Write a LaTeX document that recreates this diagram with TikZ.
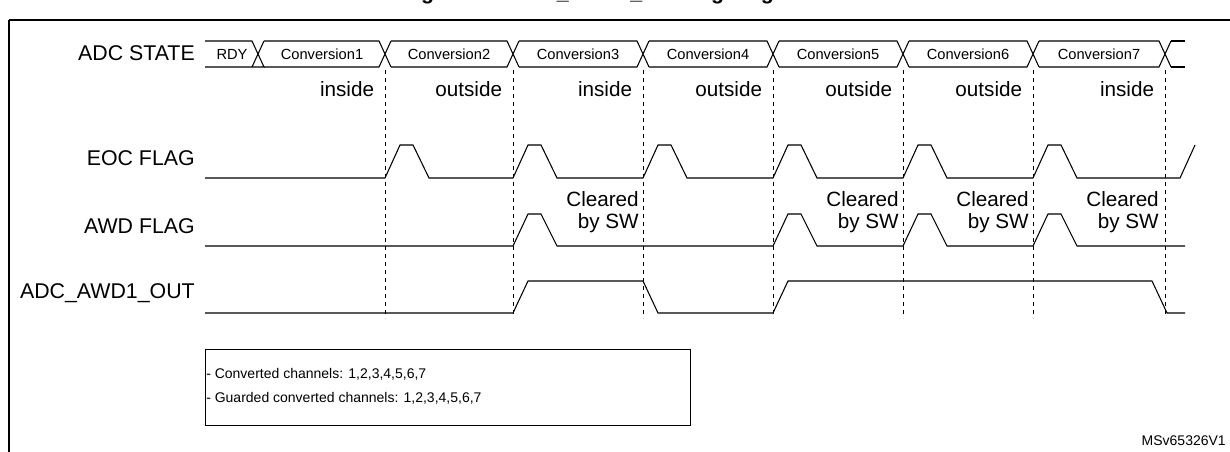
\documentclass[tikz,border=0pt]{standalone}
\usepackage{fontspec}
\setmainfont{Liberation Sans}
\usetikzlibrary{positioning}

\begin{document}
\begin{tikzpicture}[x=0.75pt,y=-0.75pt,
  sig/.style={line width=0.8pt},
  guide/.style={dashed, line width=0.5pt},
  lbl/.style={anchor=east, font=\fontsize{16}{18}\selectfont, inner sep=0pt},
  conv/.style={font=\fontsize{11}{12}\selectfont, inner sep=0pt},
  zone/.style={anchor=south east, font=\fontsize{15.5}{17}\selectfont, inner sep=2pt},
  note/.style={anchor=west, font=\fontsize{10.5}{12}\selectfont, inner sep=0pt}
]
  \useasboundingbox (0,0) rectangle (1230,452);
  % title, cut by the top of the page
  \begin{scope}
    \clip (0,0) rectangle (1230,452);
    \node[font=\fontsize{16}{18}\bfseries\selectfont, anchor=base] (title) at (636,0) {Figure 48. ADC\_AWD1\_OUT signal generation};
  \end{scope}
  \draw[line width=1pt] (9,20) -- (1232,20) (9,20) -- (9,454);

  % signal names
  \node[lbl] (state) at (195,53) {ADC STATE};
  \node[lbl] (eoc) at (195,158) {EOC FLAG};
  \node[lbl] (awd) at (195,226) {AWD FLAG};
  \node[lbl] (out) at (195,293) {ADC\_AWD1\_OUT};

  % bus
  \draw[sig] (205,41) -- (252,41) -- (264,67) -- (205,67);
  \draw[sig] (252,67) -- (264,41);
  \foreach \a/\b in {264/379, 391/507, 519/637, 649/767, 779/897, 909/1027, 1039/1159}
    \draw[sig] (\a,41) -- (\b,41) -- ++(12,26) (\a,67) -- (\b,67) -- ++(12,-26);
  \draw[sig] (1171,41) -- (1185,41) (1171,67) -- (1185,67);
  \foreach \x/\t [count=\i] in {232/RDY, 322/Conversion1, 449/Conversion2, 578/Conversion3, 708/Conversion4, 838/Conversion5, 968/Conversion6, 1099/Conversion7}
    \node[conv] (c\i) at (\x,54) {\t};

  % boundaries
  \foreach \x/\t [count=\i] in {385/inside, 513/outside, 643/inside, 773/outside, 903/outside, 1033/outside, 1165/inside} {
    \draw[guide] (\x,70) -- (\x,318);
    \node[zone] (z\i) at (\x-8,100) {\t};
  }

  % EOC flag
  \draw[sig] (205,178) -- (385,178)
    \foreach \x in {385,513,643,773,903,1033} { -- (\x,178) -- ++(15,-33) -- ++(13,0) -- ++(16,33) }
    -- (1180,178) -- (1195,145);

  % AWD flag
  \draw[sig] (205,246)
    \foreach \x in {513,773,903,1033} { -- (\x,246) -- ++(15,-32) -- ++(13,0) -- ++(16,32) }
    -- (1185,246);
  \foreach \x [count=\i] in {513,773,903,1033}
    \node[zone, anchor=east, align=right, inner sep=3pt] (clr\i) at (\x+643-513,212) {Cleared\\by SW};

  % watchdog output
  \draw[sig] (205,313) -- (513,313) -- (528,281) -- (643,281) -- (658,313) -- (773,313)
    -- (788,281) -- (1152,281) -- (1167,313) -- (1185,313);

  % channel list
  \draw[line width=0.7pt] (205,349) rectangle (690,425);
  \node[note] (ch1) at (206,374) {- Converted channels: 1,2,3,4,5,6,7};
  \node[note] (ch2) at (206,398) {- Guarded converted channels: 1,2,3,4,5,6,7};

  \node[font=\fontsize{10.5}{12}\selectfont, anchor=east, inner sep=0pt] (ref) at (1226,441) {MSv65326V1};
\end{tikzpicture}
\end{document}
